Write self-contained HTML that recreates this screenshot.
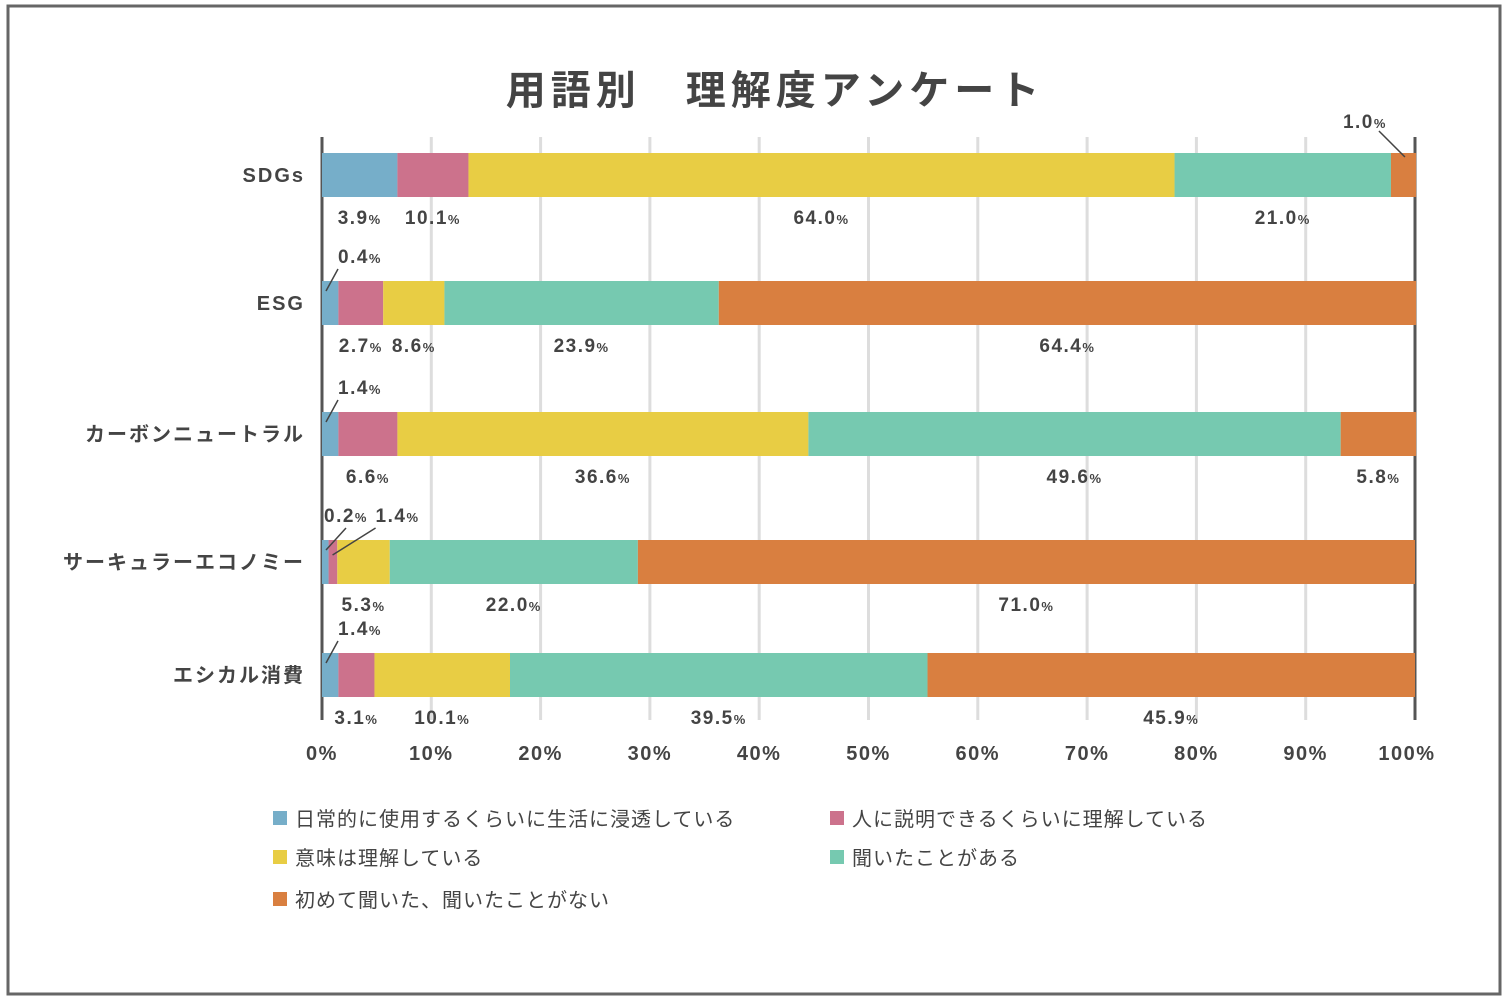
<!DOCTYPE html>
<html><head><meta charset="utf-8"><style>
html,body{margin:0;padding:0;background:#fff;}
body{width:1508px;height:1000px;overflow:hidden;font-family:"Liberation Sans","Noto Sans CJK JP",sans-serif;}
</style></head><body>
<svg id="chart" width="1508" height="1000" xmlns="http://www.w3.org/2000/svg" font-family="Liberation Sans, Noto Sans CJK JP, sans-serif">
<rect x="8" y="6" width="1492" height="988" fill="#fff" stroke="#666" stroke-width="3"/>
<text x="775" y="104" text-anchor="middle" font-size="40" font-weight="bold" fill="#444" letter-spacing="5">用語別　理解度アンケート</text>
<g id="grid"></g><g id="bars"></g><g id="labels"></g><g id="legend"></g>
</svg>
<script>
const categories=["SDGs","ESG","カーボンニュートラル","サーキュラーエコノミー","エシカル消費"];
const seriesNames=["日常的に使用するくらいに生活に浸透している","人に説明できるくらいに理解している","意味は理解している","聞いたことがある","初めて聞いた、聞いたことがない"];
const s1=[6.9,1.5,1.5,0.6,1.5];
const s2=[6.5,4.1,5.4,0.8,3.3];
const s3=[64.6,5.6,37.6,4.8,12.4];
const s4=[19.8,25.1,48.7,22.7,38.2];
const s5=[2.3,63.8,6.9,71.1,44.6];
const printed=[["3.9","10.1","64.0","21.0","1.0"],["0.4","2.7","8.6","23.9","64.4"],["1.4","6.6","36.6","49.6","5.8"],["0.2","1.4","5.3","22.0","71.0"],["1.4","3.1","10.1","39.5","45.9"]];
const callouts=[[4],[0],[0],[0,1],[0]];
const ticks=[0,10,20,30,40,50,60,70,80,90,100];
const colors=["#76aec9","#cc728c","#e8cd44","#76c9b0","#d97f40"];
const rowY=[153,281,412,540,653];
const barH=44, X0=322, X1=1415;
const x=v=>X0+(X1-X0)*v/100;
const NS="http://www.w3.org/2000/svg";
function mk(t,a,p){const e=document.createElementNS(NS,t);for(const k in a)e.setAttribute(k,a[k]);p.appendChild(e);return e;}
const G=document.getElementById("grid"),B=document.getElementById("bars"),L=document.getElementById("labels"),LG=document.getElementById("legend");
ticks.forEach(t=>{
 const ln=mk("line",{x1:x(t),x2:x(t),y1:137,y2:720,stroke:(t==0||t==100)?"#555":"#ddd","stroke-width":3},G);
 
 
 const tx=mk("text",{x:x(t)+(t==100?-8:0),y:760,"text-anchor":"middle","font-size":20,"font-weight":"bold",fill:"#444","letter-spacing":1.5},G);
 tx.textContent=t+"%";
 
 
});
const series=[s1,s2,s3,s4,s5];
categories.forEach((c,i)=>{
 const ct=mk("text",{x:305,y:rowY[i]+barH/2+7,"text-anchor":"end","font-size":20,"font-weight":"bold",fill:"#444","letter-spacing":2},L);
 ct.textContent=c;
 
 
 let acc=0;
 series.forEach((s,j)=>{
  const x0=x(acc),x1=x(acc+s[i]);acc+=s[i];
  const r=mk("rect",{x:x0,y:rowY[i],width:x1-x0,height:barH,fill:colors[j]},B);
  
  
  const isC=callouts[i].includes(j);
  const t=mk("text",{"font-size":19,"font-weight":"bold",fill:"#444","letter-spacing":1.5},L);
  
  
  t.innerHTML=printed[i][j]+'<tspan font-size="13">%</tspan>';
  if(!isC){
   t.setAttribute("x",(x0+x1)/2);t.setAttribute("y",rowY[i]+barH+27);t.setAttribute("text-anchor","middle");
  }else if(j==4){
   t.setAttribute("x",x0-48);t.setAttribute("y",rowY[i]-25);
   const l=mk("line",{x1:x0-12,y1:rowY[i]-22,x2:x0+14,y2:rowY[i]+4,stroke:"#444","stroke-width":1.5},L);
   
   
  }else{
   const lx=(j==1)?x0+47:x0+16;
   t.setAttribute("x",lx);t.setAttribute("y",rowY[i]-18);t.setAttribute("text-anchor","start");
   const l=mk("line",{x1:x0+4,y1:rowY[i]+(j==1?15:10),x2:lx,y2:rowY[i]-12,stroke:"#444","stroke-width":1.5},L);
   if(j==0&&callouts[i].length>1){t.setAttribute("x",x0+2);l.setAttribute("x2",x0+4+20);}
   
   
  }
 });
});
const lpos=[[273,826],[830,826],[273,865],[830,865],[273,907]];
seriesNames.forEach((n,j)=>{
 const r=mk("rect",{x:lpos[j][0],y:lpos[j][1]-15,width:14,height:14,fill:colors[j]},LG);
 
 
 const t=mk("text",{x:lpos[j][0]+22,y:lpos[j][1],"font-size":20,fill:"#444","letter-spacing":1},LG);
 t.textContent=n;
 
 
});
</script>
</body></html>
